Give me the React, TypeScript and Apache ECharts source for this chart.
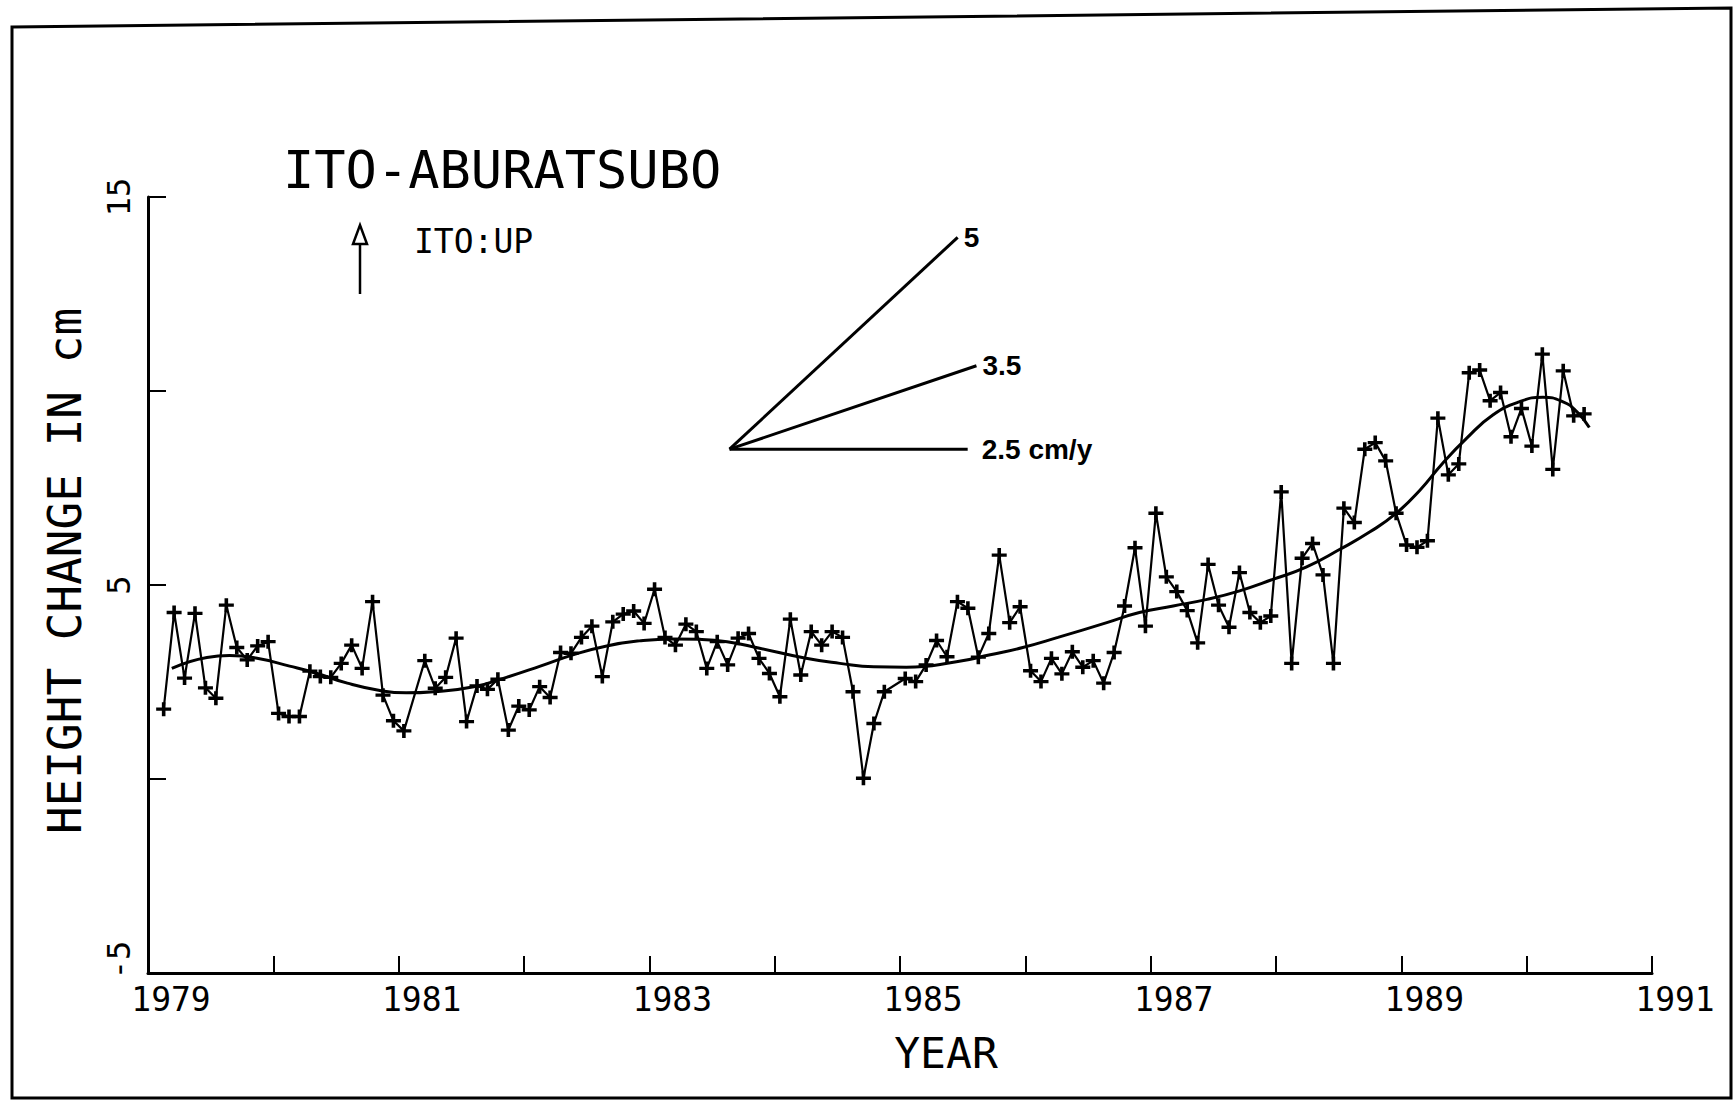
import React, { useEffect, useRef } from "react";
import * as echarts from "echarts";

// ---- data ----
const firstYear = 1979;
const firstMonth = 2; // first monthly mean: Feb 1979

// monthly mean height change (cm); null = month without a mark
const heights: (number | null)[] = [
  1.80, 4.29, 2.60, 4.27, 2.35, 2.08, 4.48, 3.39, 3.07, 3.43, 3.54, 1.69,
  1.61, 1.61, 2.78, 2.64, 2.62, 2.98, 3.45, 2.85, 4.57, 2.16, 1.50, 1.24,
  null, 3.05, 2.34, 2.62, 3.63, 1.48, 2.40, 2.31, 2.57, 1.26, 1.88, 1.78,
  2.38, 2.10, 3.26, 3.24, 3.65, 3.94, 2.64, 4.05, 4.25, 4.33, 4.01, 4.89,
  3.65, 3.45, 3.99, 3.80, 2.85, 3.54, 2.94, 3.63, 3.75, 3.11, 2.72, 2.12,
  4.12, 2.68, 3.80, 3.45, 3.80, 3.65, 2.25, 0.02, 1.43, 2.25, null, 2.59,
  2.51, 2.94, 3.57, 3.15, 4.57, 4.40, 3.14, 3.75, 5.77, 4.03, 4.44, 2.79,
  2.51, 3.11, 2.71, 3.28, 2.88, 3.05, 2.47, 3.26, 4.46, 5.96, 3.94, 6.85,
  5.21, 4.83, 4.34, 3.51, 5.53, 4.48, 3.91, 5.32, 4.29, 4.03, 4.20, 7.40,
  2.98, 5.69, 6.07, 5.26, 2.98, 6.98, 6.61, 8.50, 8.67, 8.20, 6.85, 6.03,
  5.97, 6.14, 9.30, 7.84, 8.12, 10.47, 10.54, 9.75, 9.96, 8.82, 9.55, 8.58,
  10.95, 7.98, 10.52, 9.36, 9.41,
];

// smooth trend curve
const trendYears = [
  1979.19, 1979.47, 1979.65, 1979.87, 1980.13, 1980.33, 1980.59, 1980.85,
  1981.06, 1981.28, 1981.6, 1981.86, 1982.13, 1982.39, 1982.66, 1982.92,
  1983.19, 1983.4, 1983.62, 1983.88, 1984.25, 1984.52, 1984.79, 1985.05,
  1985.45, 1985.72, 1985.98, 1986.26, 1986.65, 1986.91, 1987.18, 1987.45,
  1987.71, 1987.98, 1988.24, 1988.51, 1988.75, 1988.96, 1989.15, 1989.33,
  1989.52, 1989.73, 1989.94, 1990.13, 1990.29, 1990.4, 1990.5,
];
const trendValues = [
  2.85, 3.13, 3.18, 3.11, 2.91, 2.74, 2.47, 2.28,
  2.22, 2.25, 2.38, 2.62, 2.91, 3.2, 3.43, 3.56,
  3.61, 3.6, 3.54, 3.37, 3.11, 2.98, 2.89, 2.88,
  3.02, 3.2, 3.39, 3.65, 4.03, 4.29, 4.46, 4.63,
  4.85, 5.15, 5.46, 5.92, 6.37, 6.85, 7.45, 8.14,
  8.78, 9.38, 9.72, 9.84, 9.72, 9.47, 9.06,
];

// rate guide fan (year, cm)
const guideOrigin = [1983.64, 8.5];
const guideLabels = ["5", "3.5", "2.5 cm/y"];
const guideEndYears = [1985.46, 1985.61, 1985.54];
const guideEndValues = [13.96, 10.65, 8.5];

const xLabelYears = [1979, 1981, 1983, 1985, 1987, 1989, 1991];
const yLabelValues = [-5, 5, 15];

const MONO = "'DejaVu Sans Mono', 'Liberation Mono', monospace";
const PLUS =
  "path://M3.8,0H6.2V3.8H10V6.2H6.2V10H3.8V6.2H0V3.8H3.8Z";

export default function App() {
  const ref = useRef<HTMLDivElement>(null);

  useEffect(() => {
    if (!ref.current) return;
    const chart = echarts.init(ref.current, undefined, { renderer: "svg" });

    const monthly = heights.map((v, i) => [
      firstYear + (firstMonth - 1 + i + 0.5) / 12,
      v === null ? "-" : v,
    ]);
    const trend = trendYears.map((t, i) => [t, trendValues[i]]);

    const guideSeries = guideLabels.map((lab, i) => ({
      type: "line",
      data: [guideOrigin, [guideEndYears[i], guideEndValues[i]]],
      symbol: "none",
      silent: true,
      lineStyle: { color: "#000", width: 3 },
      endLabel: {
        show: true,
        formatter: lab,
        distance: i === 2 ? 14 : 6,
        color: "#000",
        fontFamily: "'Liberation Sans', Arial, sans-serif",
        fontWeight: "bold",
        fontSize: 28,
      },
      z: 3,
    }));

    chart.setOption({
      animation: false,
      backgroundColor: "#fff",
      grid: { left: 148, right: 81, top: 197, bottom: 129, containLabel: false },
      xAxis: {
        type: "value",
        min: 1979,
        max: 1991,
        interval: 1,
        name: "YEAR",
        nameLocation: "middle",
        nameGap: 58,
        nameTextStyle: {
          fontFamily: MONO,
          fontSize: 43,
          color: "#000",
          padding: [0, 0, 0, 92],
        },
        axisLine: { show: true, onZero: false, lineStyle: { color: "#000", width: 3 } },
        axisTick: { show: true, inside: true, length: 17, lineStyle: { color: "#000", width: 2 } },
        axisLabel: {
          margin: 10,
          fontFamily: MONO,
          fontSize: 33,
          color: "#000",
          padding: [0, 0, 0, 46],
          formatter: (v: number) => (xLabelYears.includes(v) ? String(v) : ""),
        },
        splitLine: { show: false },
      },
      yAxis: {
        type: "value",
        min: -5,
        max: 15,
        interval: 5,
        name: "HEIGHT CHANGE IN cm",
        nameLocation: "middle",
        nameRotate: 90,
        nameGap: 60,
        nameTextStyle: {
          fontFamily: MONO,
          fontSize: 46,
          color: "#000",
          padding: [0, 0, 0, 28],
        },
        axisLine: { show: true, onZero: false, lineStyle: { color: "#000", width: 3 } },
        axisTick: { show: true, inside: true, length: 18, lineStyle: { color: "#000", width: 2 } },
        axisLabel: {
          rotate: 90,
          margin: 13,
          fontFamily: MONO,
          fontSize: 32,
          color: "#000",
          formatter: (v: number) =>
            yLabelValues.includes(v) ? (v < 0 ? "{neg|" + v + "}" : String(v)) : "",
          rich: {
            neg: {
              fontFamily: MONO,
              fontSize: 32,
              color: "#000",
              padding: [0, 0, 0, 26],
            },
          },
        },
        splitLine: { show: false },
      },
      series: [
        {
          type: "line",
          data: monthly,
          connectNulls: true,
          symbol: PLUS,
          symbolSize: [15, 14],
          itemStyle: { color: "#000" },
          lineStyle: { color: "#000", width: 2.2 },
          z: 4,
        },
        {
          type: "line",
          data: trend,
          smooth: true,
          symbol: "none",
          lineStyle: { color: "#000", width: 3 },
          z: 3,
        },
        ...guideSeries,
      ],
      graphic: [
        {
          type: "polygon",
          shape: { points: [[12, 27], [1731, 8], [1731, 1098], [12, 1098]] },
          style: { fill: "none", stroke: "#000", lineWidth: 3 },
          silent: true,
        },
        {
          type: "text",
          left: 283,
          top: 144,
          style: { text: "ITO-ABURATSUBO", fontFamily: MONO, fontSize: 52, fill: "#000" },
        },
        {
          type: "text",
          left: 414,
          top: 225,
          style: { text: "ITO:UP", fontFamily: MONO, fontSize: 33, fill: "#000" },
        },
        {
          type: "line",
          shape: { x1: 360, y1: 243, x2: 360, y2: 294 },
          style: { stroke: "#000", lineWidth: 2.5 },
        },
        {
          type: "polygon",
          shape: { points: [[353, 244], [367, 244], [360, 225]] },
          style: { fill: "#fff", stroke: "#000", lineWidth: 2.5 },
        },
      ],
    });

    return () => chart.dispose();
  }, []);

  return (
    <div
      ref={ref}
      style={{ position: "absolute", left: 0, top: 0, width: 1733, height: 1102 }}
    />
  );
}
